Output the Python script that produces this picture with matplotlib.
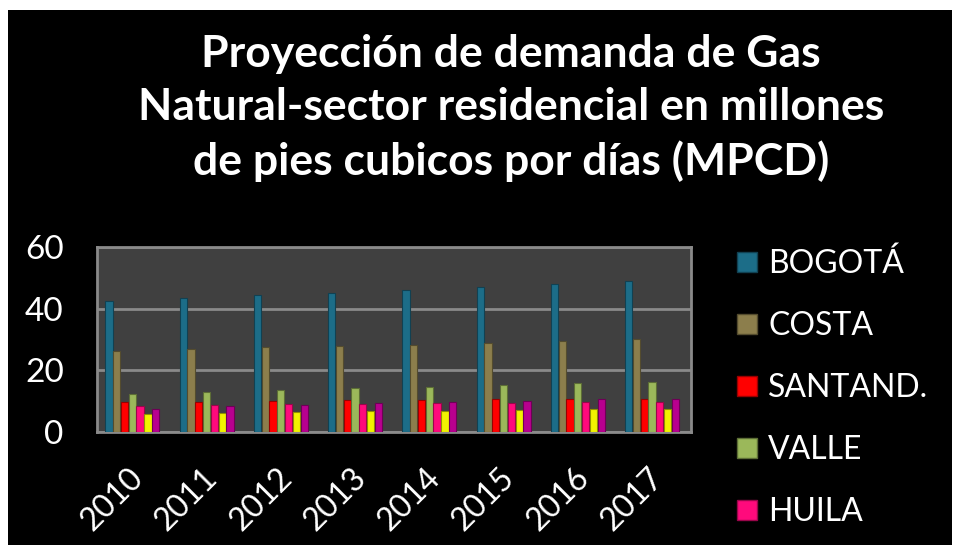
"""Proyección de demanda de gas natural, sector residencial (MPCD), barras por región."""

import matplotlib
matplotlib.use("Agg")
import matplotlib.pyplot as plt
import matplotlib.transforms as mtransforms
from matplotlib.lines import Line2D
from matplotlib.patches import Rectangle
from matplotlib.colors import to_rgb

years = ["2010", "2011", "2012", "2013", "2014", "2015", "2016", "2017"]

bogota = [42.4, 43.4, 44.4, 45.1, 46.0, 47.1, 48.0, 48.9]
costa = [26.4, 26.9, 27.5, 27.9, 28.3, 28.9, 29.5, 30.1]
santand = [9.8, 9.9, 10.1, 10.3, 10.4, 10.7, 10.7, 10.9]
valle = [12.4, 13.1, 13.6, 14.3, 14.8, 15.4, 15.8, 16.4]
huila = [8.5, 8.7, 9.1, 9.1, 9.4, 9.5, 9.8, 9.9]
serie6 = [5.8, 6.1, 6.5, 6.8, 6.9, 7.2, 7.5, 7.6]
serie7 = [7.5, 8.4, 8.8, 9.5, 9.9, 10.0, 10.7, 10.9]

series = [
    ("BOGOTÁ", bogota, "#1c6d88"),
    ("COSTA", costa, "#8c7e4c"),
    ("SANTAND.", santand, "#ff0000"),
    ("VALLE", valle, "#9bb85a"),
    ("HUILA", huila, "#ff0a7c"),
    ("Serie 6", serie6, "#f2f200"),
    ("Serie 7", serie7, "#b8008f"),
]

FONT = "Lato"


def darker(c, f=0.6):
    r, g, b = to_rgb(c)
    return (r * f, g * f, b * f)


fig = plt.figure(figsize=(9.57, 5.5), dpi=100, facecolor="white")
fig.patches.append(Rectangle((8 / 957, 5 / 550), 944 / 957, 535 / 550,
                             transform=fig.transFigure, facecolor="black",
                             edgecolor="none", zorder=-10))

ax = fig.add_axes([97 / 957, 1 - 432.3 / 550, 594 / 957, 185.6 / 550])
ax.set_facecolor("#404040")

step = 0.105
width = 0.098
for j, (name, vals, col) in enumerate(series):
    xs = [i - 0.392 + step * (j + 0.5) for i in range(len(years))]
    ax.bar(xs, vals, width=width, color=col, edgecolor=darker(col),
           linewidth=0.8, zorder=3, label=name)

ax.set_xlim(-0.5, len(years) - 0.5)
ax.set_ylim(0, 60)
ax.set_yticks([0, 20, 40, 60])
ax.set_xticks(range(len(years)))
ax.set_xticklabels(years, rotation=45, ha="right", rotation_mode="anchor")
ax.tick_params(axis="both", length=0, colors="white", labelsize=24)
ax.tick_params(axis="y", pad=24)
ax.tick_params(axis="x", pad=22)
shift = mtransforms.ScaledTranslation(-6 / 100, 0, fig.dpi_scale_trans)
for lab in ax.get_xticklabels():
    lab.set_fontfamily(FONT)
    lab.set_fontsize(23)
    lab.set_transform(lab.get_transform() + shift)
for lab in ax.get_yticklabels():
    lab.set_fontfamily(FONT)
ax.yaxis.grid(True, color="#8a8a8a", linewidth=2, zorder=1)
ax.set_axisbelow(True)
for sp in ax.spines.values():
    sp.set_color("#8a8a8a")
    sp.set_linewidth(2)

# only the first five series fit in the legend box of the original
handles = [Line2D([], [], linestyle="none", marker="s", markersize=14,
                  markerfacecolor=c, markeredgecolor=darker(c), markeredgewidth=1)
           for _, _, c in series[:5]]
labels = [n for n, _, _ in series[:5]]
leg = fig.legend(handles, labels, loc="upper left",
                 bbox_to_anchor=(731 / 957, 1 - 249 / 550),
                 frameon=False, labelspacing=1.0, handlelength=1.0,
                 handletextpad=0.16, borderpad=0, borderaxespad=0,
                 prop={"family": FONT, "size": 23})
for t in leg.get_texts():
    t.set_color("white")

fig.text(511 / 957, 1 - 108 / 550,
         "Proyección de demanda de Gas\nNatural-sector residencial en millones\n"
         "de pies cubicos por días (MPCD)",
         ha="center", va="center", color="white", fontsize=32,
         fontweight="bold", family=FONT, linespacing=1.4)

fig.savefig("out.png", dpi=100, facecolor=fig.get_facecolor())
